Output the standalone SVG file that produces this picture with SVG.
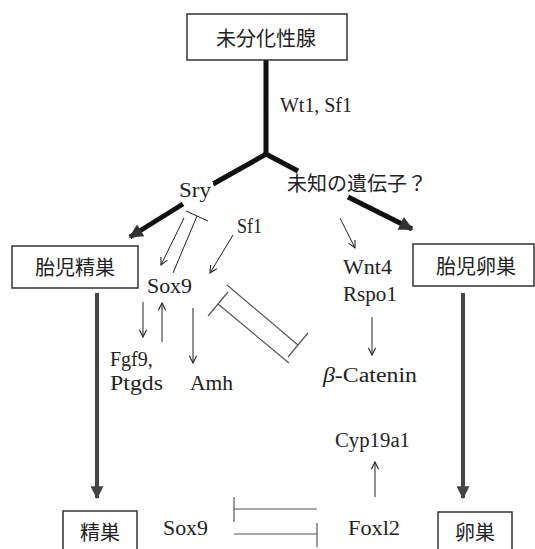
<svg xmlns="http://www.w3.org/2000/svg" width="535" height="549" viewBox="0 0 535 549">
<style>
.bg{fill:#fff}
.box{fill:#fff;stroke:#333;stroke-width:1.5}
.jp{font-family:"Noto Sans CJK JP","Noto Sans CJK SC",sans-serif;font-size:20px;fill:#222}
.lt{font-family:"Liberation Serif",serif;font-size:20px;fill:#222}
.thick{stroke:#111;stroke-width:5;fill:none}
.vthick{stroke:#444;stroke-width:4;fill:none}
.thin{stroke:#222;stroke-width:1;fill:none}
.inh{stroke:#555;stroke-width:1.2;fill:none}
</style>
<defs>
<marker id="ta" viewBox="0 0 10 10" refX="9" refY="5" markerUnits="userSpaceOnUse" markerWidth="9" markerHeight="9" orient="auto">
<path d="M1,1 L9,5 L1,9" fill="none" stroke="#222" stroke-width="1.2"/>
</marker>
<marker id="ka" viewBox="0 0 10 10" refX="9" refY="5" markerUnits="userSpaceOnUse" markerWidth="15" markerHeight="14" orient="auto">
<path d="M0,0 L10,5 L0,10 Z" fill="#333"/>
</marker>
<marker id="va" viewBox="0 0 10 10" refX="9" refY="5" markerUnits="userSpaceOnUse" markerWidth="13" markerHeight="13" orient="auto">
<path d="M0,0 L10,5 L0,10 Z" fill="#444"/>
</marker>
</defs>
<rect class="bg" x="0" y="0" width="535" height="549"/>

<g id="connectors">
<line class="thick" x1="266" y1="60" x2="266" y2="153"/>
<line class="thick" x1="268" y1="153" x2="213" y2="184"/>
<line class="thick" x1="264" y1="153" x2="298" y2="171"/>
<line class="thick" x1="183" y1="204" x2="130" y2="237" marker-end="url(#ka)"/>
<line class="thick" x1="348" y1="197" x2="412" y2="229" marker-end="url(#ka)"/>
<line class="vthick" x1="97" y1="293" x2="97" y2="498" marker-end="url(#va)"/>
<line class="vthick" x1="463" y1="293" x2="463" y2="498" marker-end="url(#va)"/>

<line class="thin" x1="184" y1="218" x2="161" y2="265" marker-end="url(#ta)"/>
<line class="thin" x1="173" y1="273" x2="197" y2="216"/>
<line class="thin" x1="186" y1="211" x2="208" y2="221"/>
<line class="thin" x1="233" y1="235" x2="210" y2="273" marker-end="url(#ta)"/>
<line class="thin" x1="143" y1="302" x2="143" y2="337" marker-end="url(#ta)"/>
<line class="thin" x1="162" y1="342" x2="162" y2="303" marker-end="url(#ta)"/>
<line class="thin" x1="193" y1="308" x2="193" y2="363" marker-end="url(#ta)"/>
<line class="thin" x1="340" y1="218" x2="355" y2="248" marker-end="url(#ta)"/>
<line class="thin" x1="372" y1="317" x2="372" y2="355" marker-end="url(#ta)"/>
<line class="thin" x1="375" y1="497" x2="375" y2="462" marker-end="url(#ta)"/>

<line class="inh" x1="227" y1="285" x2="298" y2="345"/>
<line class="inh" x1="288" y1="357" x2="308" y2="333"/>
<line class="inh" x1="218" y1="304" x2="289" y2="363"/>
<line class="inh" x1="208" y1="316" x2="228" y2="292"/>

<line class="inh" x1="234" y1="509" x2="317" y2="509"/>
<line class="inh" x1="234" y1="497" x2="234" y2="522"/>
<line class="inh" x1="234" y1="534" x2="317" y2="534"/>
<line class="inh" x1="317" y1="523" x2="317" y2="547"/>
</g>

<g id="n-top"><rect class="box" x="187" y="14" width="160" height="46"/><text class="jp" x="266" y="46" text-anchor="middle">未分化性腺</text></g>
<g id="n-wt1"><text class="lt" x="280" y="112" textLength="72" lengthAdjust="spacing">Wt1, Sf1</text></g>
<g id="n-sry"><rect class="bg" x="178" y="182" width="35" height="20"/><text class="lt" x="179" y="197" textLength="32" lengthAdjust="spacingAndGlyphs">Sry</text></g>
<g id="n-unknown"><text class="jp" x="287" y="191" textLength="140" lengthAdjust="spacingAndGlyphs">未知の遺伝子？</text></g>
<g id="n-testis-f"><rect class="box" x="12" y="246" width="126" height="42"/><text class="jp" x="75" y="275" text-anchor="middle">胎児精巣</text></g>
<g id="n-ovary-f"><rect class="box" x="413" y="244" width="121" height="42"/><text class="jp" x="476" y="274" text-anchor="middle">胎児卵巣</text></g>
<g id="n-sf1"><text class="lt" x="237" y="233" textLength="25" lengthAdjust="spacingAndGlyphs">Sf1</text></g>
<g id="n-sox9"><text class="lt" x="147" y="293" textLength="45" lengthAdjust="spacingAndGlyphs">Sox9</text></g>
<g id="n-wnt4"><text class="lt" x="343" y="274" textLength="49" lengthAdjust="spacingAndGlyphs">Wnt4</text><text class="lt" x="343" y="301" textLength="54" lengthAdjust="spacingAndGlyphs">Rspo1</text></g>
<g id="n-fgf9"><text class="lt" x="110" y="366">Fgf9,</text><text class="lt" x="110" y="390" textLength="53" lengthAdjust="spacingAndGlyphs">Ptgds</text></g>
<g id="n-amh"><text class="lt" x="190" y="390" textLength="43" lengthAdjust="spacingAndGlyphs">Amh</text></g>
<g id="n-bcat"><text class="lt" x="323" y="382" textLength="94" lengthAdjust="spacingAndGlyphs"><tspan font-style="italic">β</tspan>-Catenin</text></g>
<g id="n-cyp"><text class="lt" x="335" y="447" textLength="75" lengthAdjust="spacingAndGlyphs">Cyp19a1</text></g>
<g id="n-foxl2"><text class="lt" x="348" y="535" textLength="52" lengthAdjust="spacingAndGlyphs">Foxl2</text></g>
<g id="n-sox9b"><text class="lt" x="163" y="535" textLength="45" lengthAdjust="spacingAndGlyphs">Sox9</text></g>
<g id="n-testis"><rect class="box" x="63" y="511" width="74" height="45"/><text class="jp" x="100" y="540" text-anchor="middle">精巣</text></g>
<g id="n-ovary"><rect class="box" x="438" y="512" width="74" height="45"/><text class="jp" x="475" y="540" text-anchor="middle">卵巣</text></g>
</svg>
